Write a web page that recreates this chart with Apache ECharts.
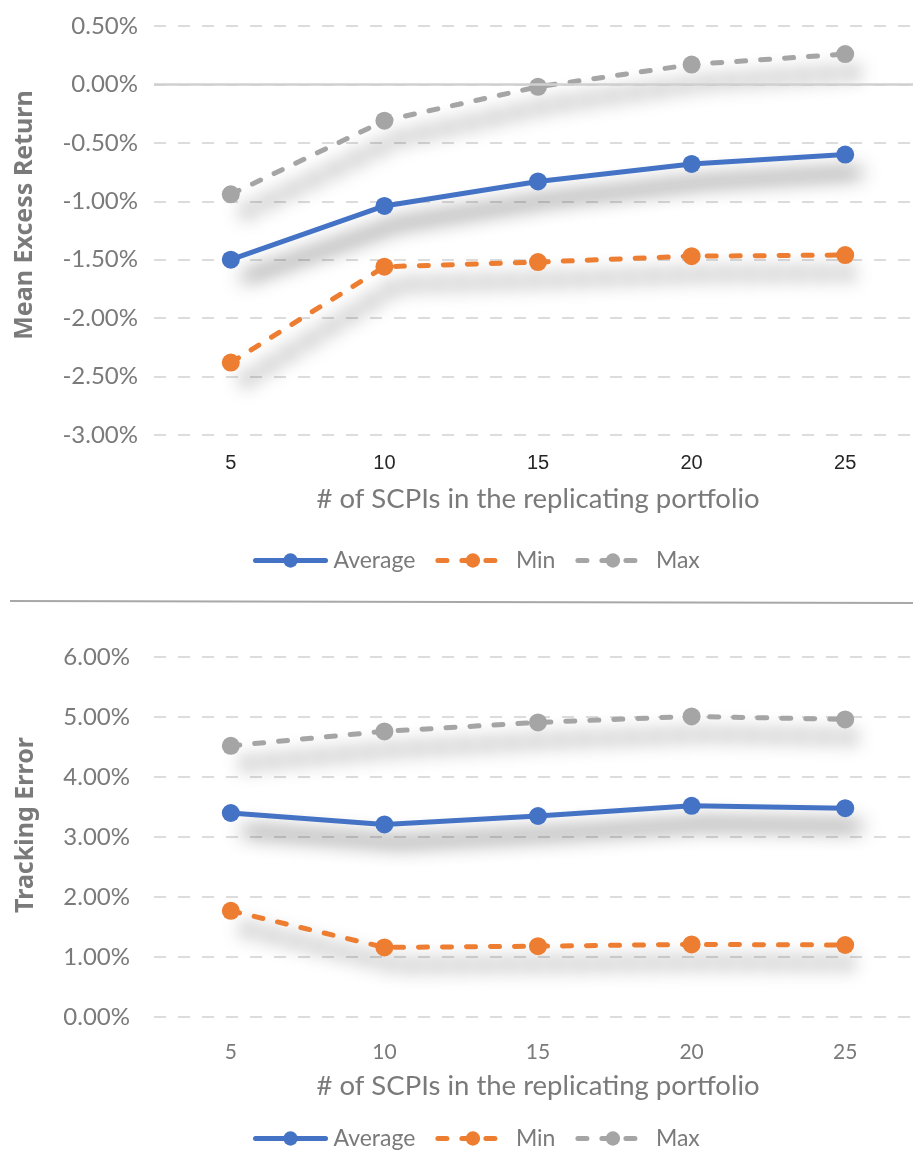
<!DOCTYPE html>
<html>
<head>
<meta charset="utf-8">
<script src="https://cdn.jsdelivr.net/npm/echarts@6/dist/echarts.min.js"></script>
<style>
  html, body { margin: 0; padding: 0; background: #fff; }
  #chart { width: 913px; height: 1151px; }
</style>
</head>
<body>
<div id="chart"></div>
<script>
// Number of SCPIs held in the replicating portfolio
const portfolioSizes = ['5', '10', '15', '20', '25'];

// Mean excess return (%)
const excessAverage = [-1.50, -1.04, -0.83, -0.68, -0.60];
const excessMin = [-2.38, -1.56, -1.52, -1.47, -1.46];
const excessMax = [-0.94, -0.31, -0.02, 0.17, 0.26];

// Tracking error (%)
const trackingAverage = [3.40, 3.21, 3.35, 3.52, 3.48];
const trackingMin = [1.77, 1.16, 1.18, 1.21, 1.20];
const trackingMax = [4.52, 4.76, 4.91, 5.01, 4.96];

const seriesNames = ['Average', 'Min', 'Max'];
const colors = { Average: '#4472C4', Min: '#ED7D31', Max: '#A5A5A5' };
const xTitle = '# of SCPIs in the replicating portfolio';

const grey = '#7a7a7a';
const gridDash = [12, 12];

function lineSeries(name, data, gridIdx, extra) {
  const dashed = name !== 'Average';
  return Object.assign({
    name: name,
    type: 'line',
    xAxisIndex: gridIdx,
    yAxisIndex: gridIdx,
    data: data,
    symbol: 'circle',
    symbolSize: 18,
    z: name === 'Average' ? 4 : 3,
    itemStyle: { color: colors[name] },
    lineStyle: {
      color: colors[name],
      width: 5,
      type: dashed ? [9, 15] : 'solid',
      cap: 'round',
      // soft drop shadow cast below and to the right of each line
      shadowColor: dashed ? 'rgba(0,0,0,1)' : 'rgba(0,0,0,0.85)',
      shadowBlur: 19,
      shadowOffsetX: 14,
      shadowOffsetY: 18
    }
  }, extra || {});
}

function legendAt(top) {
  return {
    top: top,
    left: 248,
    itemWidth: 70,
    itemHeight: 18,
    itemGap: 20,
    data: seriesNames,
    selectedMode: false,
    textStyle: { color: grey, fontFamily: 'Lato', fontSize: 23, padding: [0, 0, 0, 3] },
    lineStyle: { width: 5, shadowBlur: 0, shadowOffsetX: 0, shadowOffsetY: 0, shadowColor: 'rgba(0,0,0,0)' }
  };
}

function yTitle(text, x, y) {
  return {
    type: 'text',
    x: x, y: y,
    rotation: Math.PI / 2,
    style: {
      text: text, fill: grey, font: 'bold 25px "Noto Sans"',
      align: 'center', verticalAlign: 'middle'
    }
  };
}

const pct = v => v.toFixed(2) + '%';

const option = {
  animation: false,
  backgroundColor: '#ffffff',
  grid: [
    { left: 154, top: 26, width: 768, height: 409, outerBoundsMode: 'none' },
    { left: 154, top: 657, width: 768, height: 360, outerBoundsMode: 'none' }
  ],
  legend: [legendAt(544), legendAt(1122)],
  graphic: [
    {
      type: 'line',
      shape: { x1: 10, y1: 601, x2: 913, y2: 603 },
      style: { stroke: '#a8a8a8', lineWidth: 2 }
    },
    yTitle('Mean Excess Return', 25, 215),
    yTitle('Tracking Error', 26, 825)
  ],
  xAxis: [
    {
      gridIndex: 0, type: 'category', data: portfolioSizes,
      axisLine: { show: false }, axisTick: { show: false },
      axisLabel: { color: '#262626', fontFamily: 'Liberation Sans', fontSize: 20, margin: 18 },
      name: xTitle, nameLocation: 'middle', nameGap: 50,
      nameTextStyle: { color: grey, fontFamily: 'Lato', fontSize: 27.5 }
    },
    {
      gridIndex: 1, type: 'category', data: portfolioSizes,
      axisLine: { show: false }, axisTick: { show: false },
      axisLabel: { color: grey, fontFamily: 'Lato', fontSize: 21, margin: 25 },
      name: xTitle, nameLocation: 'middle', nameGap: 55,
      nameTextStyle: { color: grey, fontFamily: 'Lato', fontSize: 27.5 }
    }
  ],
  yAxis: [
    {
      gridIndex: 0, type: 'value', min: -3, max: 0.5, interval: 0.5,
      axisLine: { show: false }, axisTick: { show: false },
      axisLabel: { color: grey, fontFamily: 'Lato', fontSize: 24, margin: 16, formatter: pct },
      splitLine: { lineStyle: { color: '#dcdcdc', width: 2, type: gridDash } }
    },
    {
      gridIndex: 1, type: 'value', min: 0, max: 6, interval: 1,
      axisLine: { show: false }, axisTick: { show: false },
      axisLabel: { color: grey, fontFamily: 'Lato', fontSize: 24, margin: 24, formatter: pct },
      splitLine: { lineStyle: { color: '#dcdcdc', width: 2, type: gridDash } }
    }
  ],
  series: [
    lineSeries('Max', excessMax, 0, {
      markLine: {
        silent: true, symbol: 'none', label: { show: false },
        lineStyle: { color: '#d0d0d0', width: 2.5, type: 'solid', shadowBlur: 0 },
        data: [{ yAxis: 0 }]
      }
    }),
    lineSeries('Average', excessAverage, 0),
    lineSeries('Min', excessMin, 0),
    lineSeries('Max', trackingMax, 1),
    lineSeries('Average', trackingAverage, 1),
    lineSeries('Min', trackingMin, 1)
  ]
};

echarts.init(document.getElementById('chart'), null, { renderer: 'canvas' }).setOption(option);
</script>
</body>
</html>
